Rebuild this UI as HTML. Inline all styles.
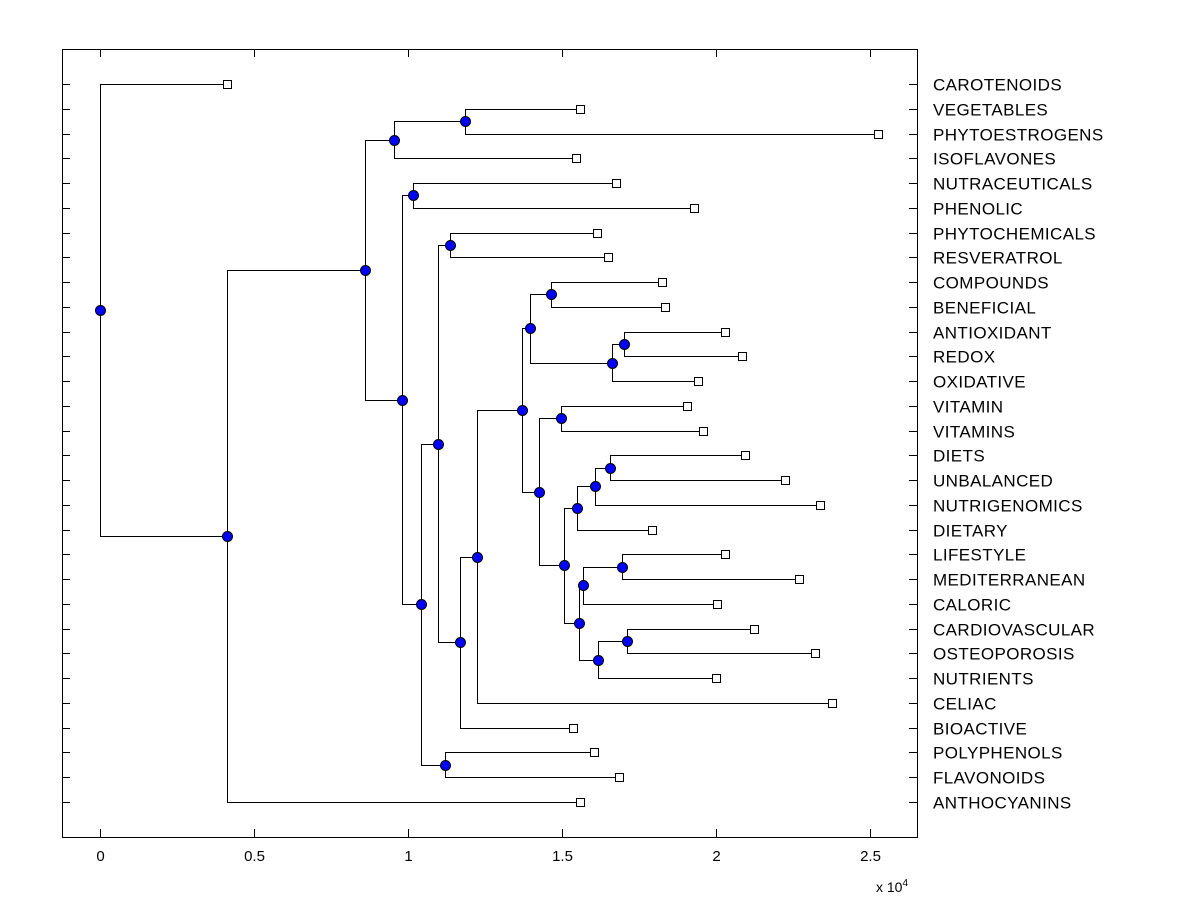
<!DOCTYPE html>
<html><head><meta charset="utf-8"><style>body{margin:0;background:#fff}svg{display:block;font-family:"Liberation Sans",Arial,sans-serif}</style></head>
<body>
<svg id="chart" width="1200" height="900" xmlns="http://www.w3.org/2000/svg">
<rect x="0" y="0" width="1200" height="900" fill="#fff"/>
<g id="plot"></g>
<text x="876" y="892" font-size="14">x 10<tspan dy="-6" font-size="10">4</tspan></text>
</svg>
<script>
const leafNames = ["CAROTENOIDS","VEGETABLES","PHYTOESTROGENS","ISOFLAVONES","NUTRACEUTICALS","PHENOLIC","PHYTOCHEMICALS","RESVERATROL","COMPOUNDS","BENEFICIAL","ANTIOXIDANT","REDOX","OXIDATIVE","VITAMIN","VITAMINS","DIETS","UNBALANCED","NUTRIGENOMICS","DIETARY","LIFESTYLE","MEDITERRANEAN","CALORIC","CARDIOVASCULAR","OSTEOPOROSIS","NUTRIENTS","CELIAC","BIOACTIVE","POLYPHENOLS","FLAVONOIDS","ANTHOCYANINS"];
const leafValues = [0.412,1.558,2.526,1.545,1.675,1.929,1.614,1.649,1.825,1.834,2.029,2.084,1.942,1.906,1.958,2.094,2.224,2.338,1.792,2.029,2.269,2.003,2.123,2.321,2.0,2.377,1.536,1.604,1.685,1.558];
const nodeNames = ["root","A","B","C","E","D","F","G","H","J","K","L","M","N","P","Q","R","O","S","T","U","W","X","V","Y","AA","Z","AB","I"];
const nodeValues = [0,0.412,0.860,0.955,1.185,0.981,1.016,1.042,1.097,1.136,1.169,1.224,1.370,1.396,1.464,1.662,1.701,1.425,1.497,1.506,1.549,1.607,1.656,1.555,1.568,1.695,1.617,1.711,1.120];
const nodeChildren = [["CAROTENOIDS","A"],["B","ANTHOCYANINS"],["C","D"],["E","ISOFLAVONES"],["VEGETABLES","PHYTOESTROGENS"],["F","G"],["NUTRACEUTICALS","PHENOLIC"],["H","I"],["J","K"],["PHYTOCHEMICALS","RESVERATROL"],["L","BIOACTIVE"],["M","CELIAC"],["N","O"],["P","Q"],["COMPOUNDS","BENEFICIAL"],["R","OXIDATIVE"],["ANTIOXIDANT","REDOX"],["S","T"],["VITAMIN","VITAMINS"],["U","V"],["W","DIETARY"],["X","NUTRIGENOMICS"],["DIETS","UNBALANCED"],["Y","Z"],["AA","CALORIC"],["LIFESTYLE","MEDITERRANEAN"],["AB","NUTRIENTS"],["CARDIOVASCULAR","OSTEOPOROSIS"],["POLYPHENOLS","FLAVONOIDS"]];
const xTicks = [0,0.5,1,1.5,2,2.5];
const xTickLabels = ["0","0.5","1","1.5","2","2.5"];

const L=62,R=917,T=49,B=837, xMin=-0.1234, xMax=2.6526;
const xs = v => L + (v - xMin)/(xMax - xMin)*(R-L);
const ys = i => 84 + i*(802-84)/29;
const NS="http://www.w3.org/2000/svg";
const g=document.getElementById('plot');
function el(t,a){const e=document.createElementNS(NS,t);for(const k in a)e.setAttribute(k,a[k]);g.appendChild(e);return e;}

const pos={};
leafNames.forEach((n,i)=>{pos[n]={x:xs(leafValues[i]),y:ys(i)};});
function resolve(n){
  if(pos[n])return pos[n];
  const k=nodeNames.indexOf(n);
  const a=resolve(nodeChildren[k][0]), b=resolve(nodeChildren[k][1]);
  pos[n]={x:xs(nodeValues[k]),y:(a.y+b.y)/2};
  return pos[n];
}
nodeNames.forEach(resolve);

let e=el('rect',{x:L+0.5,y:T+0.5,width:R-L,height:B-T,fill:'none',stroke:'#000','stroke-width':1});


xTicks.forEach((v,i)=>{
  const x=Math.round(xs(v))+0.5;
  let t=el('path',{d:`M${x} ${B}V${B-8}M${x} ${T}V${T+8}`,stroke:'#000'});
  
  
  let tl=el('text',{x:x,y:B+24,'font-size':15,'text-anchor':'middle'});tl.textContent=xTickLabels[i];
  
  
});
leafNames.forEach((n,i)=>{
  const y=Math.round(ys(i))+0.5;
  let t=el('path',{d:`M${L} ${y}H${L+8}M${R} ${y}H${R-8}`,stroke:'#000'});
  
  
  let tl=el('text',{x:933,y:y+6,'font-size':17,'letter-spacing':0.4});tl.textContent=n;
  
  
});
nodeNames.forEach((n,k)=>{
  const p=pos[n],a=pos[nodeChildren[k][0]],b=pos[nodeChildren[k][1]];
  const r=v=>Math.round(v)+0.5;
  let br=el('path',{d:`M${r(a.x)} ${r(a.y)}H${r(p.x)}V${r(b.y)}H${r(b.x)}`,fill:'none',stroke:'#000'});
  
  
});
leafNames.forEach(n=>{
  const p=pos[n];
  let s=el('rect',{x:Math.round(p.x)-3.5,y:Math.round(p.y)-3.5,width:8,height:8,fill:'#fff',stroke:'#000'});
  
  
});
nodeNames.forEach(n=>{
  const p=pos[n];
  let c=el('circle',{cx:Math.round(p.x)+0.5,cy:Math.round(p.y)+0.5,r:5,fill:'#0000ff',stroke:'#000'});
  
  
});
</script>
</body></html>
